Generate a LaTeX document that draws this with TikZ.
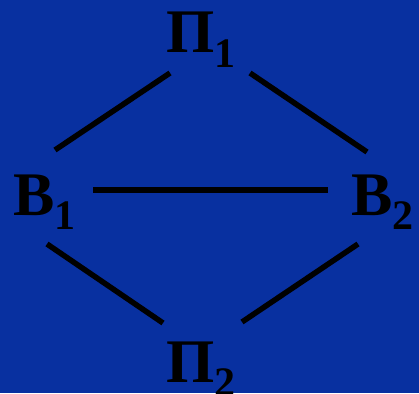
\documentclass[tikz,border=0pt]{standalone}
\usepackage{fontspec}
\setmainfont{Liberation Serif}
\definecolor{bgblue}{RGB}{8,48,160}
\newcommand{\lbl}[2]{#1\raisebox{-14pt}{\fontsize{42}{42}\selectfont #2}}
\begin{document}
\begin{tikzpicture}[x=1pt,y=-1pt,
  lab/.style={anchor=base west,inner sep=0pt,text=black,font=\fontsize{62}{62}\selectfont\bfseries},
  conn/.style={line width=5.5pt,black}]
\fill[bgblue] (0,0) rectangle (419,393);
\useasboundingbox (0,0) rectangle (419,393);
\node[lab] (p1) at (166,53) {\lbl{П}{1}};
\node[lab] (b1) at (13,215) {\lbl{В}{1}};
\node[lab] (b2) at (351,215) {\lbl{В}{2}};
\node[lab] (p2) at (166,382) {\lbl{П}{2}};
\coordinate (ul1) at (55,150);
\coordinate (ul2) at (170,73);
\coordinate (ur1) at (250,73);
\coordinate (ur2) at (367,152);
\coordinate (m1) at (93,190);
\coordinate (m2) at (328,190);
\coordinate (ll1) at (47,244);
\coordinate (ll2) at (163,323);
\coordinate (lr1) at (242,322);
\coordinate (lr2) at (358,244);
\draw[conn] (ul1) -- (ul2);
\draw[conn] (ur1) -- (ur2);
\draw[conn] (m1) -- (m2);
\draw[conn] (ll1) -- (ll2);
\draw[conn] (lr1) -- (lr2);
\end{tikzpicture}
\end{document}
